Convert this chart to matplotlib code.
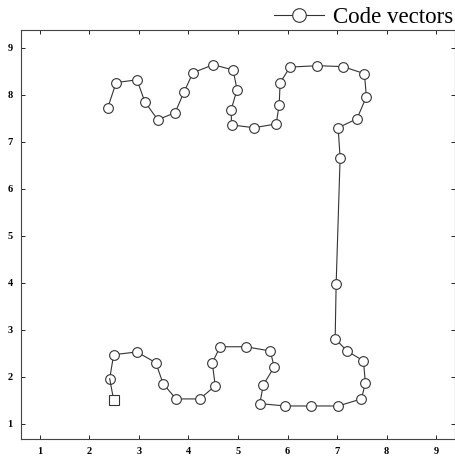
import matplotlib.pyplot as plt

# code vectors along the path, first one marked with a square
x = [2.49, 2.41, 2.49, 2.96, 3.34, 3.49, 3.75, 4.23, 4.54, 4.48,
     4.64, 5.16, 5.65, 5.73, 5.51, 5.44, 5.95, 6.48, 7.02, 7.49,
     7.57, 7.53, 7.20, 6.96, 6.98, 7.06, 7.02, 7.40, 7.59, 7.55,
     7.12, 6.60, 6.05, 5.85, 5.83, 5.77, 5.32, 4.87, 4.86, 4.98,
     4.90, 4.50, 4.09, 3.91, 3.73, 3.38, 3.12, 2.96, 2.54, 2.37]
y = [1.51, 1.96, 2.47, 2.53, 2.30, 1.85, 1.53, 1.53, 1.81, 2.30,
     2.64, 2.64, 2.55, 2.21, 1.83, 1.43, 1.38, 1.38, 1.38, 1.53,
     1.87, 2.34, 2.55, 2.81, 3.98, 6.66, 7.30, 7.49, 7.96, 8.45,
     8.60, 8.62, 8.59, 8.26, 7.79, 7.38, 7.30, 7.36, 7.68, 8.11,
     8.53, 8.64, 8.47, 8.06, 7.62, 7.47, 7.85, 8.32, 8.26, 7.72]
ticks = [1, 2, 3, 4, 5, 6, 7, 8, 9]

plt.rcParams['font.family'] = ['Liberation Serif', 'DejaVu Serif']

fig = plt.figure(figsize=(4.56, 4.61), dpi=100)
ax = fig.add_axes([0.046, 0.048, 0.952, 0.887])

ax.plot(x[1:], y[1:], color='#333333', lw=0.8, marker='o', ms=7,
        mfc='white', mec='#333333', mew=0.8, label='Code vectors')
ax.plot(x[:2], y[:2], color='#333333', lw=0.8)
ax.plot(x[0], y[0], marker='s', ms=6.5, mfc='white', mec='#333333',
        mew=0.8, ls='none')

ax.set_xlim(0.62, 9.38)
ax.set_ylim(0.68, 9.38)
ax.set_xticks(ticks)
ax.set_yticks(ticks)
ax.tick_params(direction='in', length=3, width=0.6, top=True, right=True,
               labelsize=7.5, pad=6)
for lab in ax.get_xticklabels() + ax.get_yticklabels():
    lab.set_fontweight('bold')
for s in ax.spines.values():
    s.set_linewidth(0.8)
    s.set_color('#444444')

fig.legend(loc='upper right', bbox_to_anchor=(1.02, 1.01), frameon=False,
           fontsize=16.5, handlelength=2.2, handletextpad=0.4,
           markerscale=1.4, borderaxespad=0.1)

fig.savefig('out.png', dpi=100)
